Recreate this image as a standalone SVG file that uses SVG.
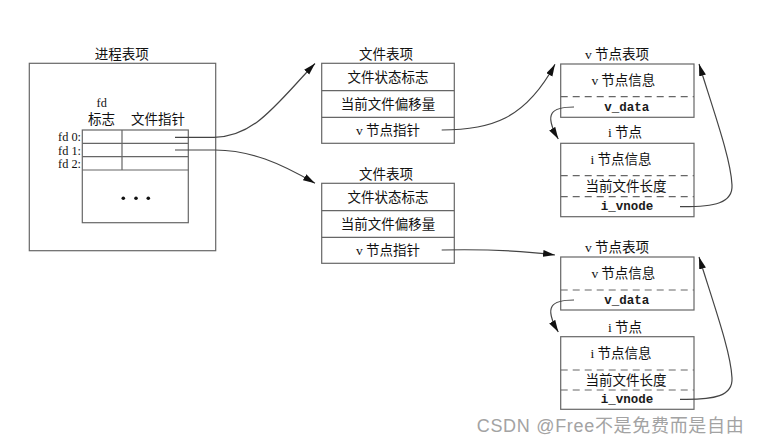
<svg xmlns="http://www.w3.org/2000/svg" width="759" height="445" viewBox="0 0 759 445">
<style>
.box{fill:#fff;stroke:#666;stroke-width:1.2}
.ln{stroke:#666;stroke-width:1.2;fill:none}
.dash{stroke:#666;stroke-width:1.2;stroke-dasharray:7 5;fill:none}
.cj{font-family:"Noto Sans CJK SC","Noto Sans CJK TC",sans-serif;font-size:13.5px;fill:#111;text-anchor:middle}
.sf{font-family:"Liberation Serif",serif;font-size:12.3px;fill:#111}
.mono{font-family:"Liberation Mono",monospace;font-size:12.5px;fill:#1a1a1a;text-anchor:middle;font-weight:bold}
.con{fill:none;stroke:#444;stroke-width:1.2}
.wm{font-family:"Liberation Sans","Noto Sans CJK SC",sans-serif;font-size:18px;fill:#a3a3a3}
</style>
<defs>
<marker id="ah" markerUnits="userSpaceOnUse" markerWidth="12" markerHeight="8" refX="12" refY="3.5" orient="auto">
<path d="M0,0 L12,3.5 L0,7 z" fill="#111"/>
</marker>
</defs>
<rect width="759" height="445" fill="#fff"/>

<g id="process">
<text class="cj" x="121.7" y="59">进程表项</text>
<rect class="box" x="29.3" y="63.3" width="186.4" height="187.4"/>
<rect class="box" x="82.3" y="130" width="106" height="92.7"/>
<path class="ln" d="M82.3,143.3 H188.3 M82.3,156.7 H188.3 M82.3,170 H188.3 M122,130 V170"/>
<text class="sf" x="101.7" y="106.5" text-anchor="middle">fd</text>
<text class="cj" x="101.5" y="124.3">标志</text>
<text class="cj" x="158" y="124.3">文件指针</text>
<text class="sf" x="81" y="141" text-anchor="end">fd 0:</text>
<text class="sf" x="81" y="154.5" text-anchor="end">fd 1:</text>
<text class="sf" x="81" y="168" text-anchor="end">fd 2:</text>
<circle cx="123.3" cy="198.3" r="1.8" fill="#111"/>
<circle cx="136" cy="198.3" r="1.8" fill="#111"/>
<circle cx="148.3" cy="198.3" r="1.8" fill="#111"/>
</g>

<g id="filetable1">
<text class="cj" x="386" y="58.5">文件表项</text>
<rect class="box" x="321.7" y="63.3" width="132.6" height="80"/>
<path class="ln" d="M321.7,90.7 H454.3 M321.7,117.3 H454.3"/>
<text class="cj" x="388" y="82">文件状态标志</text>
<text class="cj" x="388" y="109">当前文件偏移量</text>
<text class="cj" x="388" y="135.3"><tspan font-family="Liberation Serif">v</tspan> 节点指针</text>
</g>

<g id="filetable2">
<text class="cj" x="386" y="178.5">文件表项</text>
<rect class="box" x="321.7" y="183.3" width="132.6" height="80"/>
<path class="ln" d="M321.7,210.7 H454.3 M321.7,237.3 H454.3"/>
<text class="cj" x="388" y="202">文件状态标志</text>
<text class="cj" x="388" y="229">当前文件偏移量</text>
<text class="cj" x="388" y="255.3"><tspan font-family="Liberation Serif">v</tspan> 节点指针</text>
</g>

<g id="vnode1">
<text class="cj" x="617" y="58.5"><tspan font-family="Liberation Serif">v</tspan> 节点表项</text>
<rect class="box" x="560.7" y="64" width="133.3" height="53.3"/>
<path class="dash" d="M560.7,96.7 H694"/>
<text class="cj" x="623.3" y="85"><tspan font-family="Liberation Serif">v</tspan> 节点信息</text>
<text class="mono" x="626.7" y="111">v_data</text>
</g>

<g id="inode1">
<text class="cj" x="625" y="136.7"><tspan font-family="Liberation Serif">i</tspan> 节点</text>
<rect class="box" x="560.7" y="143.3" width="133.3" height="73.4"/>
<path class="dash" d="M560.7,175.7 H694 M560.7,196.7 H694"/>
<text class="cj" x="621" y="164.3"><tspan font-family="Liberation Serif">i</tspan> 节点信息</text>
<text class="cj" x="626" y="191">当前文件长度</text>
<text class="mono" x="627" y="209.7">i_vnode</text>
</g>

<g id="vnode2">
<text class="cj" x="617" y="251.7"><tspan font-family="Liberation Serif">v</tspan> 节点表项</text>
<rect class="box" x="560.7" y="257" width="133.3" height="53"/>
<path class="dash" d="M560.7,290 H694"/>
<text class="cj" x="623.3" y="277.7"><tspan font-family="Liberation Serif">v</tspan> 节点信息</text>
<text class="mono" x="626.7" y="303.7">v_data</text>
</g>

<g id="inode2">
<text class="cj" x="625" y="332.3"><tspan font-family="Liberation Serif">i</tspan> 节点</text>
<rect class="box" x="560.7" y="336.7" width="133.3" height="72.6"/>
<path class="dash" d="M560.7,370 H694 M560.7,390 H694"/>
<text class="cj" x="621" y="357.7"><tspan font-family="Liberation Serif">i</tspan> 节点信息</text>
<text class="cj" x="626" y="385">当前文件长度</text>
<text class="mono" x="627" y="403">i_vnode</text>
</g>

<g id="connectors">
<path class="con" marker-end="url(#ah)" d="M175,137.3 H214 C255,137 277,103 315,63.5"/>
<path class="con" marker-end="url(#ah)" d="M175,150 H215 C250,150 280,163 315,183.3"/>
<path class="con" marker-end="url(#ah)" d="M441.7,130 C490,130 525,120 555,64.3"/>
<path class="con" marker-end="url(#ah)" d="M441.7,250 C490,249 525,251 555,255"/>
<path class="con" marker-end="url(#ah)" d="M574,107 C552,107 543,113 558.3,139"/>
<path class="con" marker-end="url(#ah)" d="M574,300 C552,300 543,306 558.3,332"/>
<path class="con" marker-end="url(#ah)" d="M680,206.7 C715,207 733,203 732,185 C731,160 715,115 699,64"/>
<path class="con" marker-end="url(#ah)" d="M680,399.3 C715,400 733,396 732,378 C731,353 715,308 699,257"/>
</g>

<text class="wm" x="476.7" y="432" textLength="267">CSDN @Free不是免费而是自由</text>
</svg>
